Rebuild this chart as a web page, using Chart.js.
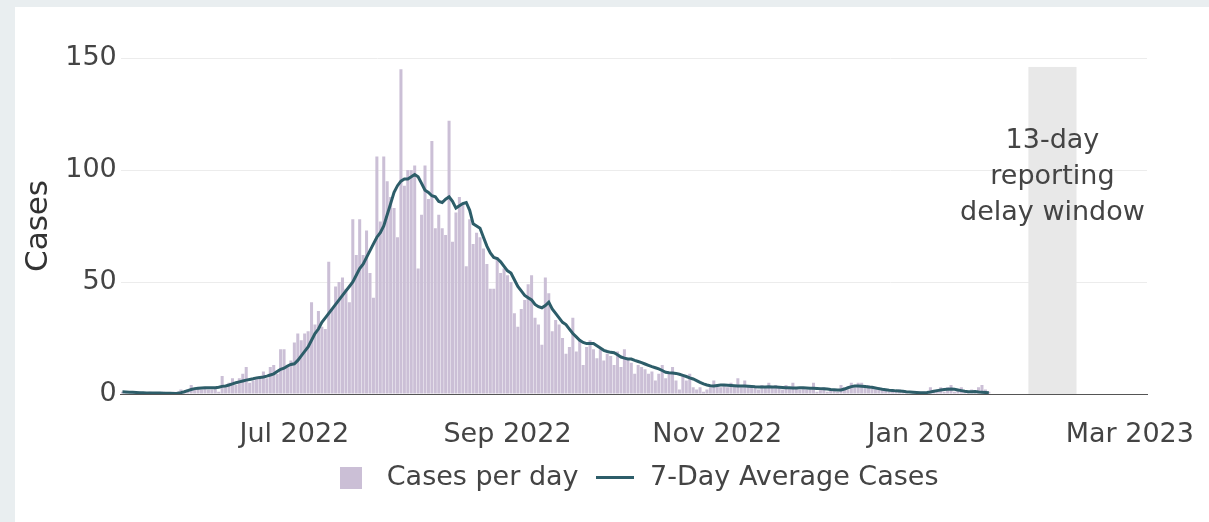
<!DOCTYPE html>
<html>
<head>
<meta charset="utf-8">
<script src="https://cdn.jsdelivr.net/npm/chart.js@4.4.0/dist/chart.umd.min.js"></script>
<style>
    body { margin: 0; background: #e9eef0; }
    #card { position: absolute; left: 15px; top: 7px; width: 1194px; height: 515px; background: #fff; }
</style>
</head>
<body>
<div id="card"><canvas id="myChart"></canvas></div>
<script>
// First day of the series
const startDate = '2022-05-12';

// Daily cases, one value per day from startDate
const casesPerDay = [
    1, 1, 0, 1, 0, 1, 0, 0, 1, 0,
    0, 0, 1, 0, 0, 1, 1, 2, 1, 2,
    4, 2, 3, 2, 3, 2, 2, 3, 1, 8,
    3, 5, 7, 4, 7, 9, 12, 5, 6, 7,
    8, 10, 7, 12, 13, 9, 20, 20, 12, 15,
    23, 27, 24, 27, 28, 41, 31, 37, 30, 29,
    59, 38, 48, 50, 52, 47, 41, 78, 62, 78,
    62, 73, 54, 43, 106, 77, 106, 95, 88, 83,
    70, 145, 93, 100, 100, 102, 56, 80, 102, 87,
    113, 74, 80, 74, 71, 122, 68, 81, 88, 85,
    57, 78, 67, 72, 70, 65, 58, 47, 47, 61,
    54, 56, 53, 50, 36, 30, 38, 42, 49, 53,
    34, 31, 22, 52, 45, 28, 33, 31, 25, 18,
    21, 34, 19, 24, 13, 21, 24, 20, 16, 20,
    15, 18, 17, 13, 19, 12, 20, 16, 14, 9,
    13, 12, 11, 9, 10, 6, 9, 13, 7, 9,
    12, 6, 2, 8, 6, 9, 3, 2, 3, 1,
    2, 3, 6, 4, 3, 4, 3, 5, 4, 7,
    3, 6, 4, 3, 3, 2, 4, 3, 5, 3,
    4, 3, 2, 4, 3, 5, 3, 2, 3, 2,
    2, 5, 1, 2, 3, 1, 2, 2, 1, 4,
    3, 2, 5, 3, 5, 5, 3, 4, 3, 2,
    3, 2, 2, 1, 2, 1, 2, 1, 1, 0,
    1, 0, 1, 1, 0, 3, 1, 2, 3, 1,
    3, 4, 1, 2, 3, 1, 1, 2, 1, 3,
    4, 2, 1
];

// 7-day average
const avgCases = [
    1.0, 0.9, 0.8, 0.8, 0.7, 0.6, 0.6, 0.5, 0.5, 0.5,
    0.4, 0.4, 0.3, 0.3, 0.3, 0.2, 0.3, 0.6, 1.0, 1.5,
    2.0, 2.4, 2.6, 2.7, 2.8, 2.8, 2.8, 2.8, 3.0, 3.4,
    3.6, 4.0, 4.5, 5.0, 5.4, 5.8, 6.2, 6.5, 6.8, 7.2,
    7.4, 7.6, 8.0, 8.5, 9.0, 10, 11, 11.5, 12.5, 13.2,
    13.5, 15, 17, 19, 21, 24, 27, 29, 32, 34,
    36, 38, 40, 42, 44, 46, 48, 50, 53, 56,
    58, 61, 64, 67, 70, 72, 75, 80, 85, 90,
    93, 95, 96, 96, 97, 98, 97, 94, 91, 90,
    88.5, 88, 86, 85.5, 87, 88, 86, 83, 84, 85,
    85.5, 82, 76, 75, 74, 70, 66, 63, 61, 60.5,
    59, 57, 55, 54, 51, 48, 46, 44, 43, 42,
    40, 39, 38.5, 39.5, 41, 38, 36, 34, 32, 31,
    29, 27, 25.5, 24, 23, 22.5, 22.5, 22.5, 21.5, 20.5,
    19.5, 19, 18.6, 18.4, 17.5, 16.5, 16, 15.6, 15.6, 15,
    14.5, 14, 13.4, 12.8, 12.2, 11.7, 11.2, 10.5, 9.7, 9.5,
    9.4, 9.2, 8.8, 8.3, 7.8, 7.2, 6.7, 6, 5.2, 4.5,
    4.0, 3.7, 3.6, 3.8, 4.0, 4.0, 3.9, 3.8, 3.7, 3.6,
    3.6, 3.6, 3.5, 3.4, 3.2, 3.1, 3.1, 3.1, 3.2, 3.1,
    3.1, 3.0, 2.9, 2.8, 2.8, 2.7, 2.7, 2.8, 2.8, 2.7,
    2.6, 2.6, 2.5, 2.4, 2.3, 2.2, 2.0, 1.9, 1.8, 1.8,
    2.2, 2.8, 3.3, 3.6, 3.6, 3.5, 3.3, 3.1, 3.0, 2.7,
    2.4, 2.1, 1.9, 1.7, 1.6, 1.4, 1.3, 1.2, 1.0, 0.9,
    0.8, 0.7, 0.6, 0.6, 0.7, 0.9, 1.2, 1.5, 1.8, 2.0,
    2.1, 2.2, 2.1, 1.8, 1.5, 1.2, 1.0, 1.0, 1.1, 0.9,
    0.8, 0.7, 0.6
];

// X axis ticks
const tickDates = ['2022-07-01', '2022-09-01', '2022-11-01', '2023-01-01', '2023-03-01'];
const tickLabels = ['Jul 2022', 'Sep 2022', 'Nov 2022', 'Jan 2023', 'Mar 2023'];
const yTicks = [0, 50, 100, 150];

// X range and the reporting delay window
const rangeEnd = '2023-03-06';
const bandStart = '2023-01-31';
const bandEnd = '2023-02-13';
const bandTop = 146;
const bandText = ['13-day', 'reporting', 'delay window'];
const bandTextY = 113;

const barColor = '#cbbfd6';
const lineColor = '#2d5d69';
const fontFamily = "'DejaVu Sans', Verdana, sans-serif";

// day number from startDate
function dayOf(d) {
    return (Date.parse(d) - Date.parse(startDate)) / 86400000;
}

function makeIcon(w, h, color) {
    const c = document.createElement('canvas');
    c.width = w;
    c.height = h;
    const g = c.getContext('2d');
    g.fillStyle = color;
    g.fillRect(0, 0, w, h);
    return c;
}

// legend icons by dataset index
const legendIcons = [makeIcon(22, 22, barColor), makeIcon(38, 3, lineColor)];

// Grey band with its label
const delayWindow = {
    id: 'delayWindow',
    beforeDatasetsDraw(chart) {
        const { ctx, scales: { x, y } } = chart;
        const x0 = x.getPixelForValue(dayOf(bandStart) - 0.5);
        const x1 = x.getPixelForValue(dayOf(bandEnd) + 0.5);
        const y0 = y.getPixelForValue(bandTop);
        const y1 = y.getPixelForValue(0);
        ctx.save();
        ctx.fillStyle = '#e8e8e8';
        ctx.fillRect(x0, y0, x1 - x0, y1 - y0);
        ctx.restore();
    },
    afterDatasetsDraw(chart) {
        const { ctx, scales: { x, y } } = chart;
        const cx = (x.getPixelForValue(dayOf(bandStart) - 0.5) + x.getPixelForValue(dayOf(bandEnd) + 0.5)) / 2;
        let cy = y.getPixelForValue(bandTextY);
        ctx.save();
        ctx.font = '27px ' + fontFamily;
        ctx.fillStyle = '#444';
        ctx.textAlign = 'center';
        ctx.textBaseline = 'middle';
        bandText.forEach(line => {
            ctx.fillText(line, cx, cy);
            cy += 36;
        });
        ctx.restore();
    }
};

// Center the legend under the plot area instead of the canvas
const centerLegend = {
    id: 'centerLegend',
    afterLayout(chart) {
        const l = chart.legend;
        const a = chart.chartArea;
        const shift = (a.left + a.right) / 2 - (l.left + l.right) / 2;
        l.left += shift;
        l.right += shift;
    }
};

Chart.defaults.font.family = fontFamily;
Chart.defaults.font.size = 27;
Chart.defaults.color = '#444';

const ctx = document.getElementById('myChart').getContext('2d');
new Chart(ctx, {
    type: 'bar',
    data: {
        datasets: [{
            label: 'Cases per day',
            data: casesPerDay.map((v, i) => ({ x: i, y: v })),
            backgroundColor: barColor,
            barPercentage: 0.88,
            categoryPercentage: 1.0,
            order: 1
        }, {
            type: 'line',
            label: '7-Day Average Cases',
            data: avgCases.map((v, i) => ({ x: i, y: v })),
            borderColor: lineColor,
            backgroundColor: lineColor,
            borderWidth: 3,
            pointRadius: 0,
            tension: 0,
            order: 0
        }]
    },
    options: {
        responsive: true,
        maintainAspectRatio: false,
        animation: false,
        layout: { padding: { left: 0, right: 62, top: 51, bottom: 21 } },
        plugins: {
            legend: {
                position: 'bottom',
                labels: {
                    usePointStyle: true,
                    pointStyleWidth: 44,
                    boxHeight: 22,
                    padding: 14,
                    color: '#444',
                    generateLabels: chart => Chart.defaults.plugins.legend.labels.generateLabels(chart)
                        .map(item => ({ ...item, pointStyle: legendIcons[item.datasetIndex] })),
                    sort: (a, b) => a.datasetIndex - b.datasetIndex
                }
            },
            tooltip: { enabled: false }
        },
        scales: {
            x: {
                type: 'linear',
                min: -0.5,
                max: dayOf(rangeEnd),
                offset: false,
                grid: { display: false, drawTicks: false },
                border: { display: true, color: '#555', width: 1 },
                ticks: {
                    padding: 25,
                    maxRotation: 0,
                    autoSkip: false,
                    callback: (v, i) => tickLabels[i]
                },
                afterBuildTicks: scale => {
                    scale.ticks = tickDates.map(d => ({ value: dayOf(d) }));
                },
                afterFit: scale => {
                    scale.height = 56;
                    scale.paddingLeft = 0;
                    scale.paddingRight = 0;
                }
            },
            y: {
                min: 0,
                max: 150,
                grid: { color: '#ececec', drawTicks: false },
                border: { display: false },
                ticks: { padding: 4 },
                afterBuildTicks: scale => {
                    scale.ticks = yTicks.map(v => ({ value: v }));
                },
                title: {
                    display: true,
                    text: 'Cases',
                    color: '#333',
                    font: { size: 31 },
                    padding: { top: 5, bottom: 4 }
                }
            }
        }
    },
    plugins: [delayWindow, centerLegend]
});
</script>
</body>
</html>
